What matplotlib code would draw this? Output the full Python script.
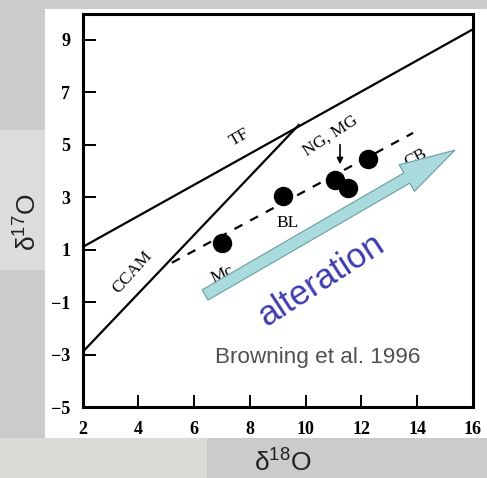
import matplotlib
matplotlib.use("Agg")
import matplotlib.pyplot as plt
from matplotlib.patches import Rectangle, FancyArrowPatch

plt.rcParams["mathtext.fontset"] = "dejavusans"
plt.rcParams["mathtext.default"] = "regular"

# ---- data ----
tf_x = [2, 16]
tf_y = [1.1, 9.4]
ccam_x = [2, 9.75]
ccam_y = [-2.9, 5.75]
trend_x = [5.2, 13.85]
trend_y = [0.5, 5.45]
pts_x = [7.0, 9.19, 11.05, 11.52, 12.24]
pts_y = [1.25, 3.04, 3.65, 3.34, 4.45]
xticks = [2, 4, 6, 8, 10, 12, 14, 16]
yticks = [-5, -3, -1, 1, 3, 5, 7, 9]
alt_tail = (6.39, -0.73)
alt_tip = (15.35, 4.79)

W, H = 487, 478
fig = plt.figure(figsize=(W / 100, H / 100), dpi=100)
fig.patch.set_facecolor("#cbcbcb")

# light background regions and white panel
fig.patches.append(Rectangle((0, 1 - 270 / H), 45 / W, 140 / H, transform=fig.transFigure,
                             facecolor="#dedcdc", edgecolor="none", zorder=-2))
fig.patches.append(Rectangle((0, 0), 207 / W, 40 / H, transform=fig.transFigure,
                             facecolor="#dcdad6", edgecolor="none", zorder=-2))
fig.patches.append(Rectangle((45 / W, 1 - 438 / H), 1 - 45 / W, (438 - 9) / H,
                             transform=fig.transFigure, facecolor="white",
                             edgecolor="none", zorder=-1))

ax = fig.add_axes([82.7 / W, 1 - 407 / H, (473 - 82.7) / W, (407 - 13.5) / H])
ax.set_zorder(3)
ax.set_facecolor("white")
ax.set_xlim(2, 16)
ax.set_ylim(-5, 10)

ax.plot(tf_x, tf_y, color="black", lw=1.6, zorder=2)
ax.plot(ccam_x, ccam_y, color="black", lw=1.6, zorder=2)
ax.plot(trend_x, trend_y, color="black", lw=1.6, ls=(0, (4, 4)), zorder=2)
ax.plot(pts_x, pts_y, "o", color="black", ms=13, zorder=3)

serif = "Liberation Serif"
lfs = 12.5
ax.text(7.64, 5.29, "TF", rotation=30, ha="center", va="center", fontsize=lfs,
        family=serif, zorder=2)
ax.text(10.9, 5.35, "NG, MG", rotation=33, ha="center", va="center", fontsize=lfs,
        family=serif, zorder=2)
ax.annotate("", xy=(11.23, 4.25), xytext=(11.23, 5.0),
            arrowprops=dict(arrowstyle="-|>", color="black", lw=1.2,
                            mutation_scale=9, shrinkA=0, shrinkB=0), zorder=2)
ax.text(13.95, 4.5, "CB", rotation=28, ha="center", va="center", fontsize=lfs,
        family=serif, zorder=2)
ax.text(9.35, 2.0, "BL", rotation=0, ha="center", va="center", fontsize=lfs,
        family=serif, zorder=2)
ax.text(7.0, 0.05, "Mc", rotation=25, ha="center", va="center", fontsize=lfs,
        family=serif, zorder=2)
ax.text(3.77, 0.15, "CCAM", rotation=48, ha="center", va="center", fontsize=lfs,
        family=serif, zorder=2)

arrow = FancyArrowPatch(alt_tail, alt_tip,
                        arrowstyle="simple,head_length=40,head_width=22,tail_width=8.5",
                        mutation_scale=1, shrinkA=0, shrinkB=0,
                        facecolor="#a9dadd", edgecolor="#6a9ea2", lw=0.8, zorder=4)
ax.add_patch(arrow)

ax.text(10.55, -0.16, "alteration", rotation=33, ha="center", va="center",
        fontsize=25, color="#3c3cae", family="Liberation Sans", zorder=5)
ax.text(10.44, -3.13, "Browning et al. 1996", ha="center", va="center",
        fontsize=16.2, color="#505050", family="Liberation Sans", zorder=5)

for s in ["top", "right", "bottom", "left"]:
    ax.spines[s].set_linewidth(2.2)
ax.set_xticks(xticks)
ax.set_yticks(yticks)
ax.set_xticklabels([str(v) for v in xticks])
ax.set_yticklabels([str(v).replace("-", "\u2212") for v in yticks])
ax.tick_params(direction="in", length=9, width=1.4, top=False, right=False,
               labelsize=13)
ax.tick_params(axis="x", pad=10)
ax.tick_params(axis="y", pad=9)
for lab in ax.get_xticklabels() + ax.get_yticklabels():
    lab.set_family(serif)
    lab.set_fontweight("bold")

fig.text(283 / W, 1 - 463 / H, r"$\delta^{18}$O", ha="center", va="center",
         fontsize=19, family="Liberation Sans", color="#222222", zorder=5)
fig.text(28 / W, 1 - 222 / H, r"$\delta^{17}$O", ha="center", va="center",
         rotation=90, fontsize=19, family="Liberation Sans", color="#222222", zorder=5)

fig.savefig("out.png", dpi=100, facecolor=fig.get_facecolor())
